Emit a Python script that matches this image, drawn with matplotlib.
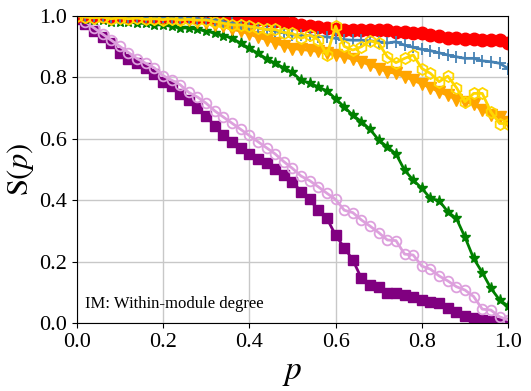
import numpy as np
import matplotlib
matplotlib.use("Agg")
import matplotlib.pyplot as plt

plt.rcParams['font.family'] = ['Liberation Serif', 'DejaVu Serif']
plt.rcParams['mathtext.fontset'] = 'stix'

p = np.linspace(0, 1, 51)

red = [1.0, 1.0, 1.0, 1.0, 1.0, 1.0, 1.0, 1.0, 1.0, 1.0,
       1.0, 1.0, 0.998, 0.998, 0.997, 0.996, 0.995, 0.994, 0.993, 0.992,
       0.99, 0.988, 0.986, 0.983, 0.98, 0.975, 0.97, 0.966, 0.962, 0.961,
       0.955, 0.953, 0.953, 0.953, 0.954, 0.953, 0.953, 0.947, 0.948, 0.944,
       0.942, 0.937, 0.935, 0.926, 0.926, 0.924, 0.924, 0.922, 0.92, 0.92, 0.912]
blue = [1.0, 0.998, 0.998, 0.997, 0.997, 0.996, 0.996, 0.995, 0.995, 0.994,
        0.994, 0.993, 0.992, 0.991, 0.99, 0.988, 0.985, 0.98, 0.975, 0.97,
        0.965, 0.96, 0.955, 0.95, 0.945, 0.937, 0.937, 0.935, 0.932, 0.931,
        0.926, 0.922, 0.92, 0.92, 0.918, 0.915, 0.911, 0.915, 0.904, 0.897,
        0.89, 0.886, 0.879, 0.872, 0.866, 0.861, 0.861, 0.853, 0.85, 0.845, 0.828]
gold = [1.0, 0.995, 0.993, 0.995, 0.99, 0.993, 0.99, 0.992, 0.988, 0.99,
        0.987, 0.99, 0.986, 0.988, 0.985, 0.986, 0.98, 0.975, 0.97, 0.97,
        0.965, 0.96, 0.955, 0.955, 0.945, 0.942, 0.926, 0.937, 0.922, 0.872,
        0.966, 0.90, 0.888, 0.899, 0.918, 0.91, 0.866, 0.847, 0.861, 0.872,
        0.828, 0.812, 0.785, 0.803, 0.766, 0.72, 0.747, 0.747, 0.687, 0.649, 0.649]
orange = [1.0, 0.995, 0.995, 0.994, 0.993, 0.993, 0.992, 0.992, 0.991, 0.99,
          0.99, 0.988, 0.985, 0.985, 0.98, 0.975, 0.97, 0.965, 0.955, 0.95,
          0.94, 0.93, 0.922, 0.912, 0.902, 0.893, 0.89, 0.887, 0.884, 0.877,
          0.872, 0.866, 0.858, 0.85, 0.839, 0.828, 0.817, 0.812, 0.801, 0.79,
          0.777, 0.766, 0.752, 0.741, 0.727, 0.72, 0.712, 0.693, 0.676, 0.671, 0.655]
green = [1.0, 0.99, 0.985, 0.985, 0.98, 0.98, 0.98, 0.975, 0.975, 0.97,
         0.97, 0.965, 0.96, 0.96, 0.955, 0.95, 0.943, 0.935, 0.927, 0.91,
         0.894, 0.877, 0.86, 0.845, 0.83, 0.815, 0.79, 0.78, 0.768, 0.755,
         0.73, 0.703, 0.676, 0.655, 0.63, 0.595, 0.573, 0.55, 0.497, 0.465,
         0.438, 0.405, 0.398, 0.362, 0.34, 0.279, 0.21, 0.164, 0.113, 0.075, 0.055]
plum = [1.0, 0.98, 0.96, 0.94, 0.92, 0.90, 0.88, 0.86, 0.845, 0.83,
        0.805, 0.79, 0.775, 0.75, 0.735, 0.715, 0.69, 0.67, 0.65, 0.63,
        0.61, 0.59, 0.57, 0.55, 0.525, 0.503, 0.478, 0.463, 0.443, 0.422,
        0.402, 0.367, 0.359, 0.335, 0.315, 0.294, 0.27, 0.268, 0.224, 0.221,
        0.185, 0.175, 0.153, 0.137, 0.118, 0.107, 0.086, 0.045, 0.042, 0.02, 0.01]
purple = [0.99, 0.972, 0.95, 0.93, 0.91, 0.88, 0.86, 0.845, 0.83, 0.81,
          0.785, 0.77, 0.745, 0.725, 0.70, 0.675, 0.64, 0.61, 0.59, 0.57,
          0.55, 0.535, 0.52, 0.50, 0.48, 0.46, 0.427, 0.402, 0.367, 0.34,
          0.286, 0.245, 0.205, 0.145, 0.124, 0.118, 0.099, 0.097, 0.091, 0.083,
          0.075, 0.069, 0.064, 0.048, 0.037, 0.023, 0.015, 0.01, 0.005, 0.0, 0.0]

fig = plt.figure(figsize=(5.31, 3.91), dpi=100)
ax = fig.add_axes([0.1444, 0.174, 0.8126, 0.786])
ax.grid(True, color='#c8c8c8', lw=1.0, zorder=0)
ax.set_axisbelow(True)

ax.plot(p, purple, color='purple', marker='s', ms=7, lw=2, mec='purple')
ax.plot(p, plum, color='plum', marker='o', ms=7, lw=2, mfc='none', mew=1.3)
ax.plot(p, green, color='green', marker='*', ms=8, lw=2)
ax.plot(p, orange, color='orange', marker='v', ms=8, lw=2)
ax.plot(p, red, color='red', marker='o', ms=9, lw=2)
ax.plot(p, blue, color='steelblue', marker='+', ms=8, lw=2, mew=1.3)
ax.plot(p, gold, color='gold', marker='h', ms=8, lw=2, mfc='none', mew=1.3)

ax.set_xlim(0, 1)
ax.set_ylim(0, 1)
ax.set_xticks([0, 0.2, 0.4, 0.6, 0.8, 1.0])
ax.set_yticks([0, 0.2, 0.4, 0.6, 0.8, 1.0])
ax.tick_params(labelsize=16)
ax.set_xlabel('$p$', fontsize=24)
ax.set_ylabel(r'$\mathrm{S}(p)$', fontsize=22, labelpad=2)
ax.text(0.02, 0.05, 'IM: Within-module degree', transform=ax.transAxes, fontsize=12)

fig.savefig('out.png', dpi=100)
